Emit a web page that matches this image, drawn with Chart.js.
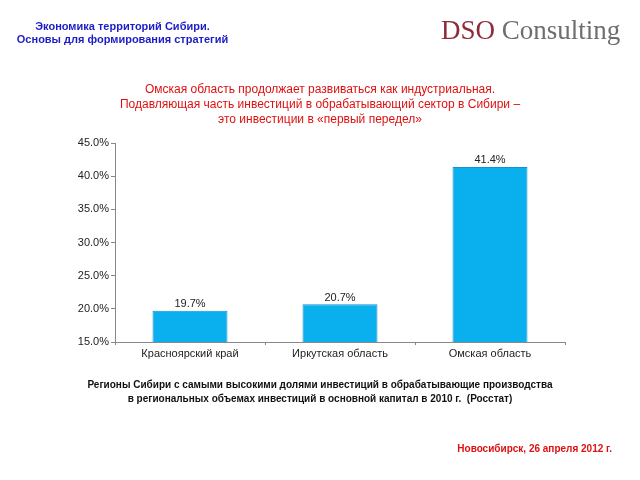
<!DOCTYPE html>
<html><head><meta charset="utf-8">
<script src="https://cdn.jsdelivr.net/npm/chart.js@4/dist/chart.umd.min.js"></script>
<style>
html,body{margin:0;padding:0;width:640px;height:480px;background:#fff;overflow:hidden;font-family:"Liberation Sans",Arial,sans-serif;}
#wrap{position:absolute;left:0;top:0;width:640px;height:480px;}
.t{position:absolute;white-space:nowrap;}
#hdr{left:0;width:245px;top:20px;text-align:center;color:#1c1cc8;font-size:11px;font-weight:bold;line-height:13px;}
#logo{left:441px;top:15px;font-family:"Liberation Serif","DejaVu Serif",serif;font-size:27px;color:#6e6e72;}
#logo span{color:#8e2b3a;}
#title{left:0;width:640px;top:82px;text-align:center;color:#e01010;font-size:12px;line-height:15px;}
#cap{left:0;width:640px;top:378px;text-align:center;color:#111;font-size:10px;font-weight:bold;line-height:14px;}
#date{right:28px;top:443px;color:#e01010;font-size:10px;font-weight:bold;}
</style></head>
<body>
<div id="wrap"><canvas id="c" width="640" height="480"></canvas></div>
<div class="t" id="hdr">Экономика территорий Сибири.<br>Основы для формирования стратегий</div>
<div class="t" id="logo"><span>DSO</span> Consulting</div>
<div class="t" id="title">Омская область продолжает развиваться как индустриальная.<br>Подавляющая часть инвестиций в обрабатывающий сектор в Сибири –<br>это инвестиции в «первый передел»</div>
<div class="t" id="cap">Регионы Сибири с самыми высокими долями инвестиций в обрабатывающие производства<br>в региональных объемах инвестиций в основной капитал в 2010 г.&nbsp; (Росстат)</div>
<div class="t" id="date">Новосибирск, 26 апреля 2012 г.</div>
<script>
const categories = ["Красноярский край", "Иркутская область", "Омская область"];
const values = [19.7, 20.7, 41.4];
const yTicks = [15, 20, 25, 30, 35, 40, 45];

const labelPlugin = {
  id: 'barLabels',
  afterDatasetsDraw(chart) {
    const ctx = chart.ctx;
    const meta = chart.getDatasetMeta(0);
    ctx.save();
    ctx.font = '11px "Liberation Sans", Arial, sans-serif';
    ctx.fillStyle = '#222';
    ctx.textAlign = 'center';
    ctx.textBaseline = 'bottom';
    meta.data.forEach((bar, i) => {
      ctx.fillText(values[i].toFixed(1) + '%', bar.x, bar.y - 1);
    });
    ctx.restore();
  }
};

new Chart(document.getElementById('c'), {
  type: 'bar',
  data: {
    labels: categories,
    datasets: [{
      data: values,
      backgroundColor: '#0ab0ee',
      borderColor: '#1a8fd0',
      borderWidth: 1,
      categoryPercentage: 1.0,
      barPercentage: 0.5
    }]
  },
  options: {
    responsive: false,
    animation: false,
    events: [],
    layout: { padding: { left: 55, right: 75, top: 143, bottom: 108 } },
    plugins: { legend: { display: false }, tooltip: { enabled: false }, title: { display: false } },
    scales: {
      x: {
        grid: { display: true, offset: true, drawOnChartArea: false, drawTicks: true, tickLength: 3, color: '#888' },
        border: { display: true, color: '#888', width: 1 },
        ticks: { color: '#222', font: { family: '"Liberation Sans", Arial, sans-serif', size: 11 }, padding: 2, maxRotation: 0 },
        afterFit(s) { s.height = 30; }
      },
      y: {
        min: 15, max: 45,
        afterBuildTicks(s) { s.ticks = yTicks.map(v => ({ value: v })); },
        grid: { display: true, drawOnChartArea: false, drawTicks: true, tickLength: 4, color: '#888' },
        border: { display: true, color: '#888', width: 1 },
        ticks: { color: '#222', font: { family: '"Liberation Sans", Arial, sans-serif', size: 11 }, padding: 2,
                 callback: v => Number(v).toFixed(1) + '%' },
        afterFit(s) { s.width = 60; }
      }
    }
  },
  plugins: [labelPlugin]
});
</script>
</body></html>
